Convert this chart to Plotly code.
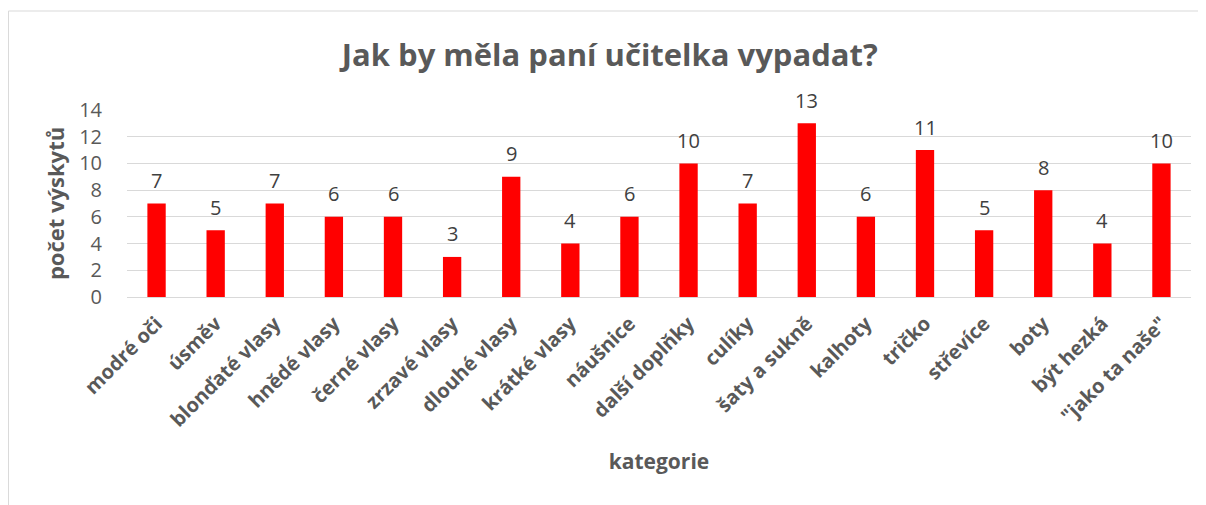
import plotly.graph_objects as go

categories = ["modré oči", "úsměv", "blonďaté vlasy", "hnědé vlasy", "černé vlasy",
              "zrzavé vlasy", "dlouhé vlasy", "krátké vlasy", "náušnice", "další doplňky",
              "culíky", "šaty a sukně", "kalhoty", "tričko", "střevíce", "boty",
              "být hezká", "\"jako ta naše\""]
values = [7, 5, 7, 6, 6, 3, 9, 4, 6, 10, 7, 13, 6, 11, 5, 8, 4, 10]
y_ticks = [0, 2, 4, 6, 8, 10, 12, 14]

FONT = "Open Sans"
GREY = "#595959"

fig = go.Figure()
fig.add_trace(go.Bar(
    x=categories, y=values,
    marker=dict(color="#ff0000", line=dict(width=0)),
    cliponaxis=False,
))
for c, v in zip(categories, values):
    fig.add_annotation(x=c, y=v, text=str(v), showarrow=False,
                       yanchor="middle", yshift=23,
                       font=dict(family=FONT, size=20, color="#404040"))

fig.update_layout(
    width=1206, height=505,
    margin=dict(l=119, r=23, t=102, b=216),
    paper_bgcolor="white", plot_bgcolor="white",
    bargap=0.69,
    showlegend=False,
    title=dict(text="<b>Jak by měla paní učitelka vypadat?</b>",
               x=0.499, xanchor="center", y=0.907, yanchor="middle",
               font=dict(family=FONT, size=31, color=GREY)),
    font=dict(family=FONT, color=GREY),
)
fig.update_yaxes(
    range=[0, 14], tickvals=y_ticks, showgrid=True, gridcolor="#d9d9d9", gridwidth=1,
    zeroline=True, zerolinecolor="#d9d9d9", zerolinewidth=1, automargin=False,
    tickfont=dict(family=FONT, size=20, color=GREY),
    ticks="outside", ticklen=20, tickcolor="rgba(0,0,0,0)",
    title=dict(text="<b>počet výskytů</b>", font=dict(family=FONT, size=22, color=GREY), standoff=8),
)
fig.update_xaxes(
    tickangle=-45, showline=True, linecolor="#d9d9d9", linewidth=1, automargin=False,
    tickfont=dict(family=FONT, size=20, color=GREY), ticklabelstandoff=6,
    ticktext=["<b>" + c + "</b>" for c in categories], tickvals=categories,
    title=dict(text="<b>kategorie</b>", font=dict(family=FONT, size=21, color=GREY), standoff=23),
)
fig.add_shape(type="rect", xref="paper", yref="paper",
              x0=-0.1114, x1=1.1, y0=-1.3, y1=1.5294,
              line=dict(color="#d9d9d9", width=1), fillcolor="rgba(0,0,0,0)", layer="below")

fig.write_html("out.html")
